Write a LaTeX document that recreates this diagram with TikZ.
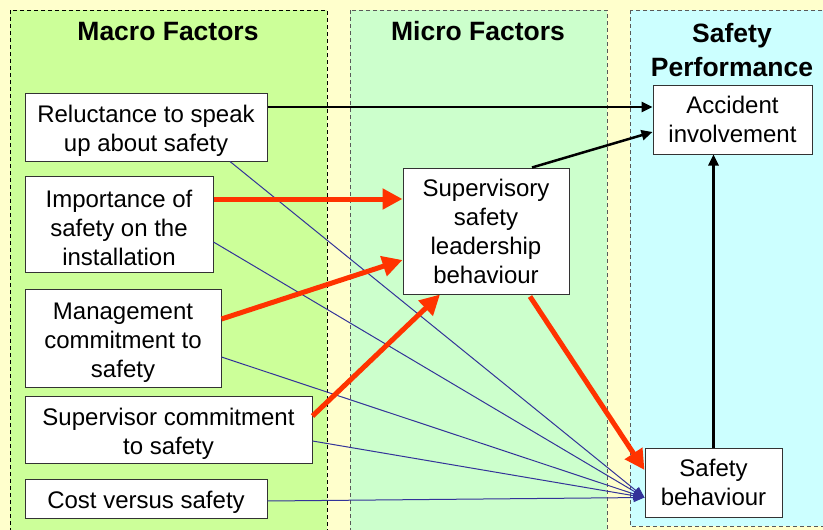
\documentclass[tikz,border=0pt]{standalone}
\usepackage{fontspec}
\setmainfont{Liberation Sans}
\usetikzlibrary{arrows.meta}
\definecolor{bgyellow}{HTML}{FFFFCC}
\definecolor{macrofill}{HTML}{CCFF99}
\definecolor{microfill}{HTML}{CCFFCC}
\definecolor{perffill}{HTML}{CCFFFF}
\definecolor{redarrow}{HTML}{FF3300}
\definecolor{bluelink}{HTML}{333399}
\definecolor{boxline}{HTML}{333333}
\newcommand\mytopstrut{\rule{0pt}{25pt}}
\tikzset{
  panel/.style={dash pattern=on 4pt off 3pt, line width=0.9pt},
  factor/.style={draw=boxline, line width=1pt, fill=white, align=center, inner sep=0pt,
    font=\fontsize{24}{29}\selectfont},
  paneltitle/.style={font=\fontsize{26.5}{33}\selectfont\bfseries, anchor=base, inner sep=0pt},
  strong/.style={draw=redarrow, line width=5pt, -{Triangle[length=20pt,width=20pt]}},
  direct/.style={draw=black, line width=2.5pt, -{Triangle[length=11pt,width=10pt]}},
  weak/.style={draw=bluelink, line width=1pt, -{Triangle[length=11pt,width=9pt]}}
}
\begin{document}
\begin{tikzpicture}[x=1pt,y=-1pt]
\useasboundingbox (0,0) rectangle (823,530);
\fill[bgyellow] (0,0) rectangle (823,530);
% panels
\begin{scope}
\clip (0,0) rectangle (823,530);
\filldraw[fill=macrofill, draw=black, panel] (10,10) rectangle (327,540);
\filldraw[fill=microfill, draw=black!65, panel] (350,10) rectangle (607,540);
\filldraw[fill=perffill, draw=black!65, panel] (630,10) rectangle (840,526);
\end{scope}
% titles
\node[paneltitle] (tmacro) at (168,41) {Macro Factors};
\node[paneltitle] (tmicro) at (478,41) {Micro Factors};
\node[paneltitle] (tperf1) at (732,42) {Safety};
\node[paneltitle] (tperf2) at (732,76) {Performance};
% boxes
\node[factor, minimum width=242pt, minimum height=68pt] (rel) at (146,127) {\mytopstrut Reluctance to speak\\up about safety};
\node[factor, minimum width=188pt, minimum height=96pt] (imp) at (119,224) {\mytopstrut Importance of\\safety on the\\installation};
\node[factor, minimum width=196pt, minimum height=98pt] (mgmt) at (123,338) {\mytopstrut Management\\commitment to\\safety};
\node[factor, minimum width=287pt, minimum height=67pt] (sup) at (168.5,429.5) {\mytopstrut Supervisor commitment\\to safety};
\node[factor, minimum width=242pt, minimum height=39pt] (cost) at (146,498.5) {\mytopstrut Cost versus safety};
\node[factor, minimum width=166pt, minimum height=126pt] (ssl) at (486,231) {Supervisory\\safety\\leadership\\behaviour};
\node[factor, minimum width=159pt, minimum height=69pt] (acc) at (732.5,119.5) {Accident\\involvement};
\node[factor, minimum width=137pt, minimum height=69pt] (sb) at (713.5,482.5) {Safety\\behaviour};
% weak links
\draw[weak] ([xshift=84pt]rel.south) -- ([yshift=-15pt]sb.west);
\draw[weak] ([yshift=-18pt]imp.east) -- ([yshift=-15pt]sb.west);
\draw[weak] ([yshift=-19pt]mgmt.east) -- ([yshift=-15pt]sb.west);
\draw[weak] ([yshift=-11.5pt]sup.east) -- ([yshift=-15pt]sb.west);
\draw[weak] ([yshift=-2.5pt]cost.east) -- ([yshift=-15pt]sb.west);
% strong links
\draw[strong] ([yshift=25pt]imp.east) -- ([yshift=32pt]ssl.west);
\draw[strong] ([yshift=19pt]mgmt.east) -- ([yshift=-29pt]ssl.west);
\draw[strong] ([yshift=13.5pt]sup.east) -- ([xshift=-46pt]ssl.south);
\draw[strong] ([xshift=44pt,yshift=-2pt]ssl.south) -- ([yshift=12.5pt]sb.west);
% direct links
\draw[direct] ([yshift=20pt]rel.east) -- ([yshift=12.5pt]acc.west);
\draw[direct] ([xshift=46pt]ssl.north) -- ([yshift=-12.5pt]acc.west);
\draw[direct] (sb.north) -- (sb.north |- acc.south);
\end{tikzpicture}
\end{document}
